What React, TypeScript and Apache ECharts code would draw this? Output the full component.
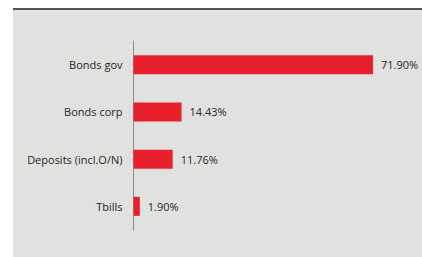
import React, { useEffect, useRef } from "react";
import * as echarts from "echarts";

const categories = ["Bonds gov", "Bonds corp", "Deposits (incl.O/N)", "Tbills"];
const values = [71.9, 14.43, 11.76, 1.9];

export default function App() {
  const ref = useRef<HTMLDivElement>(null);
  useEffect(() => {
    if (!ref.current) return;
    const chart = echarts.init(ref.current, null, { renderer: "svg" });
    chart.setOption({
      animation: false,
      backgroundColor: "#ffffff",
      graphic: [
        { type: "rect", shape: { x: 13, y: 10, width: 409, height: 247 }, style: { fill: "#e1e1e0" }, z: -10 },
        { type: "rect", shape: { x: 13, y: 8, width: 409, height: 2 }, style: { fill: "#555555" }, z: -10 },
      ],
      grid: { left: 133.5, top: 41, width: 266.5, height: 189, containLabel: false },
      xAxis: {
        type: "value",
        min: 0,
        max: 80,
        show: false,
      },
      yAxis: {
        type: "category",
        data: categories,
        inverse: true,
        axisLine: { show: true, lineStyle: { color: "#8c8c8c", width: 1 } },
        axisTick: { show: false },
        axisLabel: { color: "#262626", fontSize: 11, margin: 11, fontFamily: "Open Sans" },
      },
      series: [
        {
          type: "bar",
          data: values,
          barWidth: 19,
          itemStyle: { color: "#e8202e" },
          label: {
            show: true,
            position: "right",
            distance: 8,
            color: "#262626",
            fontSize: 11,
            fontFamily: "Open Sans",
            formatter: (p: any) => Number(p.value).toFixed(2) + "%",
          },
        },
      ],
    });
    return () => chart.dispose();
  }, []);
  return (
    <div
      ref={ref}
      style={{ position: "fixed", left: 0, top: 0, width: 422, height: 257 }}
    />
  );
}
